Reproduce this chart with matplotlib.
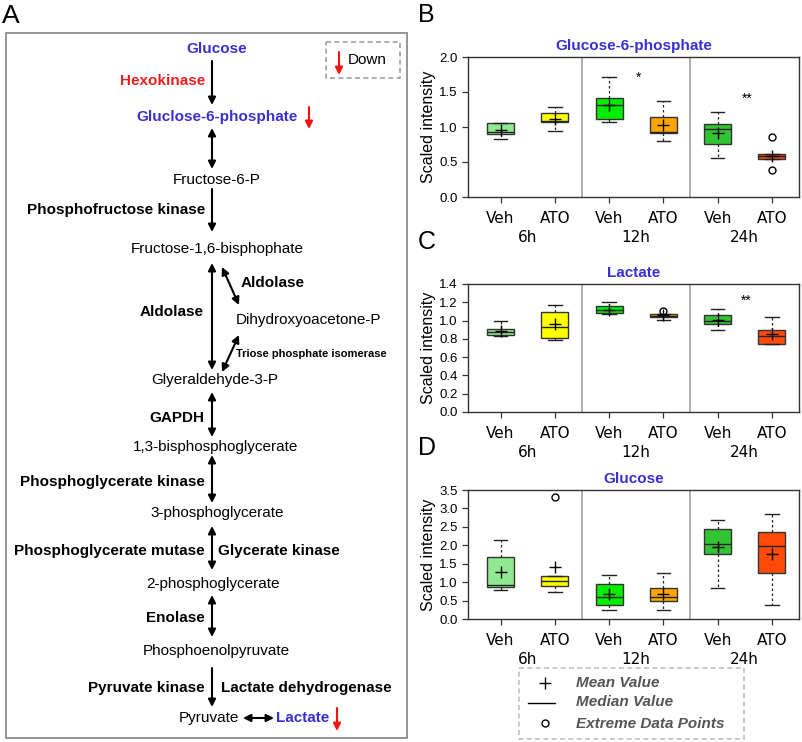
import matplotlib
matplotlib.use("Agg")
import matplotlib.pyplot as plt
from matplotlib.patches import Rectangle

plt.rcParams['font.family'] = ['Liberation Sans', 'DejaVu Sans']

# ---------------- data ----------------
groups = ['6h', '12h', '24h']
conds = ['Veh', 'ATO', 'Veh', 'ATO', 'Veh', 'ATO']
box_colors = ['#90e890', '#ffff00', '#00ee00', '#ffa500', '#33c433', '#ff4a0a']

# glucose-6-phosphate (panel B)
g6p_lo = [0.83, 0.94, 1.07, 0.80, 0.56, 0.54]
g6p_q1 = [0.90, 1.065, 1.11, 0.92, 0.755, 0.54]
g6p_med = [0.925, 1.09, 1.31, 0.93, 0.965, 0.58]
g6p_q3 = [1.055, 1.20, 1.41, 1.15, 1.04, 0.61]
g6p_hi = [1.06, 1.28, 1.72, 1.37, 1.22, 0.61]
g6p_mean = [0.955, 1.12, 1.32, 1.03, 0.91, 0.59]
g6p_out = [[], [], [], [], [], [0.855, 0.38]]

# lactate (panel C)
lac_lo = [0.835, 0.785, 1.07, 1.01, 0.895, 0.74]
lac_q1 = [0.84, 0.81, 1.085, 1.04, 0.96, 0.74]
lac_med = [0.87, 0.93, 1.12, 1.05, 0.99, 0.83]
lac_q3 = [0.91, 1.09, 1.16, 1.07, 1.06, 0.895]
lac_hi = [0.99, 1.17, 1.20, 1.07, 1.13, 1.035]
lac_mean = [0.89, 0.96, 1.12, 1.06, 1.005, 0.85]
lac_out = [[], [], [], [1.11], [], []]

# glucose (panel D)
glc_lo = [0.78, 0.73, 0.25, 0.25, 0.83, 0.38]
glc_q1 = [0.87, 0.89, 0.39, 0.475, 1.755, 1.26]
glc_med = [0.91, 1.03, 0.59, 0.59, 2.04, 1.98]
glc_q3 = [1.69, 1.16, 0.96, 0.85, 2.45, 2.35]
glc_hi = [2.15, 1.17, 1.19, 1.24, 2.68, 2.85]
glc_mean = [1.28, 1.42, 0.67, 0.69, 1.95, 1.76]
glc_out = [[], [3.30], [], [], [], []]

BLUE = '#3a2fd0'
RED = '#ff1010'

fig = plt.figure(figsize=(8.02, 7.42), dpi=100)
W, H = 802, 742

# ---------------- panel A: pathway (pixel coords) ----------------
pa = fig.add_axes([0, 0, 1, 1])
pa.set_xlim(0, W)
pa.set_ylim(H, 0)
pa.axis('off')

pa.text(2, 16, 'A', fontsize=19, ha='left', va='center')
pa.add_patch(Rectangle((6, 33), 401, 705, fill=False, ec='#8c8c8c', lw=1.3))

# metabolites: name, x, y, colour, bold, align
metabolites = [
    ('Glucose', 217, 49, BLUE, True, 'center'),
    ('Gluclose-6-phosphate', 217, 117, BLUE, True, 'center'),
    ('Fructose-6-P', 217, 180, 'black', False, 'center'),
    ('Fructose-1,6-bisphophate', 217, 249, 'black', False, 'center'),
    ('Dihydroxyoacetone-P', 236, 320, 'black', False, 'left'),
    ('Glyeraldehyde-3-P', 215, 380, 'black', False, 'center'),
    ('1,3-bisphosphoglycerate', 216, 447, 'black', False, 'center'),
    ('3-phosphoglycerate', 217, 513, 'black', False, 'center'),
    ('2-phosphoglycerate', 213, 584, 'black', False, 'center'),
    ('Phosphoenolpyruvate', 216, 651, 'black', False, 'center'),
    ('Pyruvate', 209, 718, 'black', False, 'center'),
    ('Lactate', 276, 718, BLUE, True, 'left'),
]
for name, x, y, c, b, ha in metabolites:
    pa.text(x, y, name, color=c, fontsize=11, fontweight='bold' if b else 'normal',
            ha=ha, va='center')

# enzymes: name, x, y, colour, align, size
enzymes = [
    ('Hexokinase', 205, 81, '#e82020', 'right', 11),
    ('Phosphofructose kinase', 205, 210, 'black', 'right', 11),
    ('Aldolase', 204, 312, 'black', 'right', 11),
    ('Aldolase', 241, 283, 'black', 'left', 11),
    ('Triose phosphate isomerase', 236, 354, 'black', 'left', 8),
    ('GAPDH', 204, 418, 'black', 'right', 11),
    ('Phosphoglycerate kinase', 205, 482, 'black', 'right', 11),
    ('Phosphoglycerate mutase', 205, 551, 'black', 'right', 11),
    ('Glycerate kinase', 218, 551, 'black', 'left', 11),
    ('Enolase', 205, 618, 'black', 'right', 11),
    ('Pyruvate kinase', 205, 688, 'black', 'right', 11),
    ('Lactate dehydrogenase', 221, 688, 'black', 'left', 11),
]
for name, x, y, c, ha, fs in enzymes:
    pa.text(x, y, name, color=c, fontsize=fs, fontweight='bold', ha=ha, va='center')

# reaction arrows: x0, y0, x1, y1, style
arrows = [
    (212, 61, 212, 105, '-|>'),
    (212, 128, 212, 169, '<|-|>'),
    (212, 189, 212, 232, '-|>'),
    (212, 263, 212, 370, '<|-|>'),
    (222, 267, 239, 305, '<|-|>'),
    (239, 335, 222, 372, '<|-|>'),
    (212, 392, 212, 437, '<|-|>'),
    (212, 455, 212, 503, '<|-|>'),
    (212, 526, 212, 570, '<|-|>'),
    (212, 595, 212, 637, '<|-|>'),
    (212, 668, 212, 707, '-|>'),
    (243, 718, 274, 718, '<|-|>'),
]
for x0, y0, x1, y1, st in arrows:
    pa.annotate('', xy=(x1, y1), xytext=(x0, y0),
                arrowprops=dict(arrowstyle=st, color='black', lw=1.5,
                                mutation_scale=11, shrinkA=0, shrinkB=0))

# red "down" markers
for x, y0, y1 in [(309, 107, 129), (337, 708, 731), (339, 52, 75)]:
    pa.annotate('', xy=(x, y1), xytext=(x, y0),
                arrowprops=dict(arrowstyle='-|>', color=RED, lw=1.5,
                                mutation_scale=11, shrinkA=0, shrinkB=0))
pa.add_patch(Rectangle((326, 42), 74, 36, fill=False, ec='#a0a0a0', lw=1.2, ls=(0, (3, 2))))
pa.text(348, 60, 'Down', fontsize=11, ha='left', va='center')

# ---------------- panels B-D: box plots ----------------
def box_panel(rect, title, letter, lo, q1, med, q3, hi, mean, out, ymax, step):
    l, t, r, b = rect
    ax = fig.add_axes([l / W, 1 - b / H, (r - l) / W, (b - t) / H])
    stats = []
    for i in range(6):
        stats.append(dict(whislo=lo[i], q1=q1[i], med=med[i], q3=q3[i], whishi=hi[i],
                          mean=mean[i], fliers=out[i]))
    pos = list(range(1, 7))
    bp = ax.bxp(stats, positions=pos, widths=0.5, patch_artist=True, showmeans=True,
                boxprops=dict(ec='#333333', lw=1.0),
                medianprops=dict(color='#222222', lw=1.0),
                whiskerprops=dict(color='#222222', lw=0.9, ls=(0, (2, 2))),
                capprops=dict(color='#222222', lw=1.0),
                meanprops=dict(marker='+', markeredgecolor='black', markersize=8, markeredgewidth=1.0),
                flierprops=dict(marker='o', markerfacecolor='none', markeredgecolor='black',
                                markersize=5, markeredgewidth=1.0))
    for patch, c in zip(bp['boxes'], box_colors):
        patch.set_facecolor(c)
    for xd in (2.5, 4.5):
        ax.axvline(xd, color='#a8a8a8', lw=1.3, zorder=0)
    ax.set_xlim(0.4, 6.5)
    ax.set_ylim(0, ymax)
    n = int(round(ymax / step))
    ax.set_yticks([i * step for i in range(n + 1)])
    ax.set_yticklabels(['%.1f' % (i * step) for i in range(n + 1)], fontsize=9.5)
    ax.set_xticks(pos)
    ax.set_xticklabels(conds, fontsize=11, family='DejaVu Sans')
    ax.tick_params(axis='x', pad=6)
    ax.tick_params(direction='out', length=4, width=0.9, color='#333333')
    for s in ax.spines.values():
        s.set_color('#333333')
        s.set_linewidth(1.0)
    for k, g in enumerate(groups):
        ax.annotate(g, xy=(1.5 + 2 * k, 0), xycoords=('data', 'axes fraction'),
                    xytext=(0, -29), textcoords='offset points', ha='center', va='center',
                    fontsize=11, family='DejaVu Sans')
    ax.set_ylabel('Scaled intensity', fontsize=11.5, labelpad=2)
    ax.set_title(title, color=BLUE, fontsize=11, fontweight='bold', pad=5)
    fig.text(418 / W, 1 - (t - 42) / H, letter, fontsize=18, ha='left', va='center')
    return ax

axB = box_panel((468, 57, 799, 197), 'Glucose-6-phosphate', 'B',
                g6p_lo, g6p_q1, g6p_med, g6p_q3, g6p_hi, g6p_mean, g6p_out, 2.0, 0.5)
axB.text(3.55, 1.70, '*', ha='center', va='center', fontsize=10)
axB.text(5.55, 1.40, '**', ha='center', va='center', fontsize=10)

axC = box_panel((468, 284, 799, 412), 'Lactate', 'C',
                lac_lo, lac_q1, lac_med, lac_q3, lac_hi, lac_mean, lac_out, 1.4, 0.2)
axC.text(5.52, 1.22, '**', ha='center', va='center', fontsize=10)

axD = box_panel((468, 490, 799, 619), 'Glucose', 'D',
                glc_lo, glc_q1, glc_med, glc_q3, glc_hi, glc_mean, glc_out, 3.5, 0.5)

# ---------------- legend ----------------
pa.add_patch(Rectangle((519, 668), 225, 71, fill=False, ec='#c0c0c0', lw=1.2, ls=(0, (3, 2))))
pa.plot([545], [683], marker='+', color='black', markersize=8, mew=1.0)
pa.plot([528, 555], [703, 703], color='black', lw=1.0)
pa.plot([545], [723], marker='o', mfc='none', mec='black', markersize=5, mew=1.0)
for txt, y in [('Mean Value', 683), ('Median Value', 702), ('Extreme Data Points', 724)]:
    pa.text(576, y, txt, color='#555555', fontsize=11, fontweight='bold', fontstyle='italic',
            ha='left', va='center')

fig.savefig('out.png', dpi=100)
